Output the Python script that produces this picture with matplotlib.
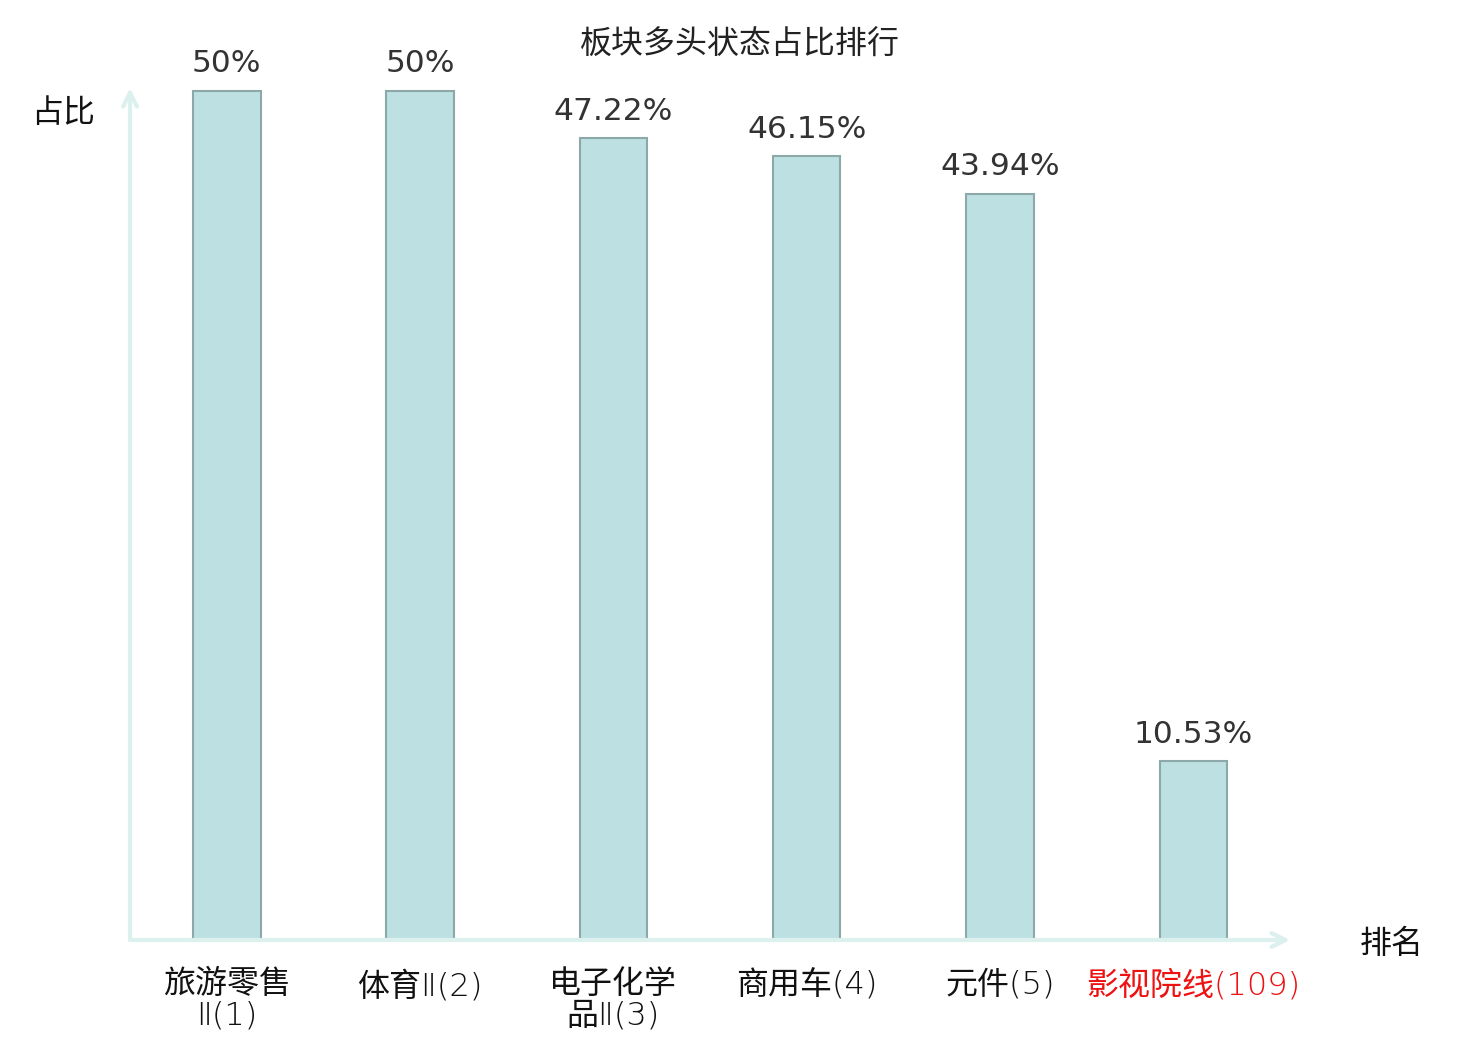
import matplotlib
matplotlib.use("Agg")
import matplotlib.pyplot as plt

plt.rcParams['font.family'] = ['Noto Sans CJK SC', 'DejaVu Sans']

categories = ["旅游零售\nⅡ(1)", "体育Ⅱ(2)", "电子化学\n品Ⅱ(3)", "商用车(4)", "元件(5)", "影视院线(109)"]
values = [50.0, 50.0, 47.22, 46.15, 43.94, 10.53]
value_labels = ["50%", "50%", "47.22%", "46.15%", "43.94%", "10.53%"]
label_colors = ["#111111"] * 5 + ["#ee1111"]

W, H = 1480, 1040
fig = plt.figure(figsize=(W / 100, H / 100), dpi=100)
x0, x1, y0, y1 = 130, 1290, 940, 88
ax = fig.add_axes([x0 / W, 1 - y0 / H, (x1 - x0) / W, (y0 - y1) / H])
ax.set_xlim(-0.5, 5.5)
ax.set_ylim(0, 50 * (y0 - y1) / (y0 - 91))

xs = list(range(len(categories)))
ax.bar(xs, values, width=0.35, color="#bde0e3", edgecolor="#8ca8a9", linewidth=1.5, zorder=3)
for x, v, lab in zip(xs, values, value_labels):
    ax.annotate(lab, (x, v), xytext=(0, 9), textcoords="offset points",
                ha="center", va="bottom", fontsize=22.5, color="#333333",
                family="DejaVu Sans")

for s in ax.spines.values():
    s.set_visible(False)
ax.set_yticks([])
ax.set_xticks(xs)
ax.set_xticklabels(categories, fontsize=23, linespacing=1.05,
                   family=['DejaVu Sans', 'Noto Sans CJK SC'], fontweight='light')
for t, c in zip(ax.get_xticklabels(), label_colors):
    t.set_color(c)
ax.tick_params(axis="x", length=0, pad=21)

axis_col = "#dcf0ee"
ax.annotate("", xy=(1.0, 0), xytext=(0, 0), xycoords="axes fraction",
            arrowprops=dict(arrowstyle="->,head_length=1.0,head_width=0.5", color=axis_col, lw=3, shrinkA=0, shrinkB=0))
ax.annotate("", xy=(0, 1.0), xytext=(0, 0), xycoords="axes fraction",
            arrowprops=dict(arrowstyle="->,head_length=1.0,head_width=0.5", color=axis_col, lw=3, shrinkA=0, shrinkB=0))

fig.text(63 / W, 1 - 113 / H, "占比", ha="center", va="center", fontsize=23, color="#111111")
fig.text(1392 / W, 1 - 944 / H, "排名", ha="center", va="center", fontsize=23, color="#111111")
fig.text(740 / W, 1 - 45 / H, "板块多头状态占比排行", ha="center", va="center", fontsize=23, color="#222222")

fig.savefig("out.png", dpi=100)
